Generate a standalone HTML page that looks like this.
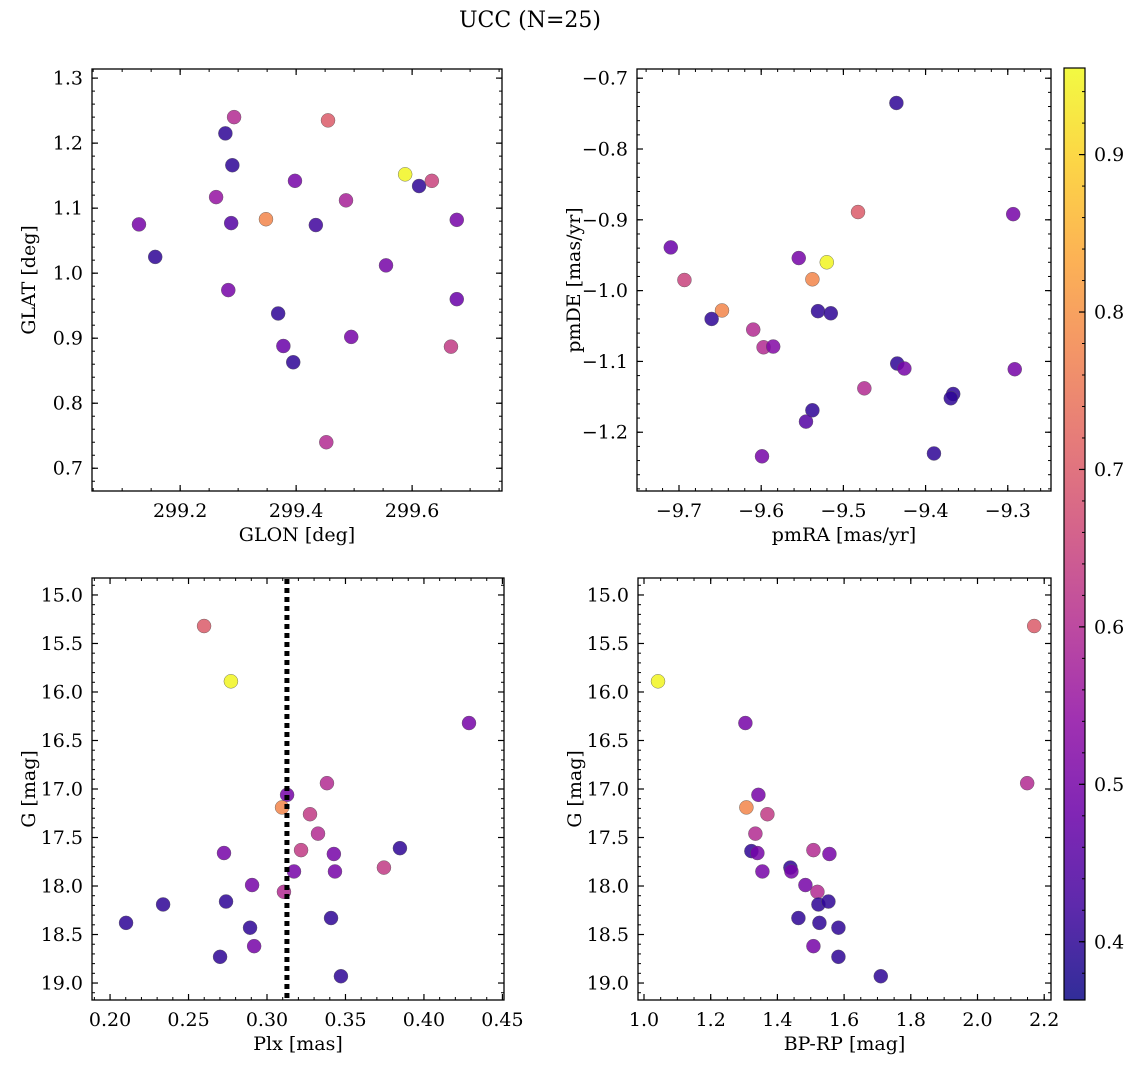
<!DOCTYPE html>
<html><head><meta charset="utf-8"><style>
html,body{margin:0;padding:0;background:#fff}
svg{display:block;font-family:"DejaVu Serif","Liberation Serif",serif}
</style></head><body>
<svg id="fig" width="1136" height="1068" viewBox="0 0 1136 1068" xmlns="http://www.w3.org/2000/svg">
<defs><linearGradient id="plasma" x1="0" y1="1" x2="0" y2="0"></linearGradient></defs>
<text x="530" y="27" font-size="22" text-anchor="middle">UCC (N=25)</text>
</svg>
<script>
// ---- data ----
const tlGlon=[299.129,299.157,299.262,299.278,299.293,299.290,299.288,299.283,299.348,299.398,299.369,299.378,299.395,299.434,299.455,299.452,299.486,299.495,299.555,299.588,299.612,299.634,299.677,299.677,299.667];
const tlGlat=[1.075,1.025,1.117,1.215,1.240,1.166,1.077,0.974,1.083,1.142,0.938,0.888,0.863,1.074,1.235,0.740,1.112,0.902,1.012,1.152,1.134,1.142,1.082,0.960,0.887];
const tlC=[0.5,0.4,0.55,0.4,0.6,0.4,0.45,0.5,0.78,0.5,0.4,0.48,0.4,0.42,0.7,0.6,0.58,0.5,0.5,0.95,0.4,0.65,0.5,0.48,0.63];
const trRA=[-9.4355,-9.4822,-9.2934,-9.710,-9.6934,-9.6477,-9.6603,-9.6097,-9.5971,-9.5854,-9.5543,-9.5377,-9.5202,-9.5309,-9.5153,-9.4345,-9.4258,-9.4745,-9.2915,-9.3664,-9.3693,-9.5377,-9.5455,-9.599,-9.3898];
const trDE=[-0.735,-0.889,-0.892,-0.939,-0.985,-1.028,-1.040,-1.055,-1.080,-1.079,-0.954,-0.984,-0.960,-1.029,-1.032,-1.103,-1.110,-1.138,-1.111,-1.146,-1.152,-1.169,-1.185,-1.234,-1.230];
const trC=[0.4,0.7,0.5,0.48,0.65,0.78,0.4,0.6,0.6,0.52,0.5,0.78,0.95,0.4,0.4,0.4,0.5,0.6,0.5,0.4,0.4,0.4,0.45,0.5,0.4];
const blPlx=[0.2599,0.2770,0.4287,0.3382,0.3128,0.3096,0.3274,0.3325,0.3217,0.2726,0.3426,0.3847,0.3745,0.3172,0.3433,0.2905,0.3108,0.2739,0.2338,0.2102,0.3408,0.2892,0.2918,0.2701,0.3471];
const blG=[15.32,15.89,16.32,16.94,17.06,17.19,17.26,17.46,17.63,17.66,17.67,17.61,17.81,17.85,17.85,17.99,18.06,18.16,18.19,18.38,18.33,18.43,18.62,18.73,18.93];
const blC=[0.7,0.95,0.5,0.6,0.5,0.78,0.63,0.6,0.63,0.5,0.5,0.4,0.63,0.5,0.5,0.5,0.6,0.4,0.4,0.4,0.4,0.4,0.5,0.4,0.4];
const plxLine=0.3127;
const brBPRP=[2.170,1.042,1.304,2.149,1.343,1.307,1.370,1.334,1.322,1.340,1.508,1.556,1.355,1.439,1.442,1.484,1.520,1.523,1.553,1.463,1.526,1.583,1.508,1.583,1.710];
const brG=[15.32,15.89,16.32,16.94,17.06,17.19,17.26,17.46,17.64,17.66,17.63,17.67,17.85,17.81,17.85,17.99,18.06,18.19,18.16,18.33,18.38,18.43,18.62,18.73,18.93];
const brC=[0.7,0.95,0.5,0.6,0.5,0.78,0.63,0.6,0.4,0.5,0.6,0.5,0.5,0.4,0.5,0.5,0.6,0.4,0.4,0.4,0.4,0.4,0.5,0.4,0.4];
const cbTicks=[0.4,0.5,0.6,0.7,0.8,0.9];
const vmin=0.363, vmax=0.955;

const NS="http://www.w3.org/2000/svg";
const svg=document.getElementById('fig');
const TF=19, LF=19;
function mk(tag,attrs,parent){const e=document.createElementNS(NS,tag);for(const k in attrs)e.setAttribute(k,attrs[k]);(parent||svg).appendChild(e);return e;}
const stops=[[13,8,135],[65,4,157],[106,0,168],[143,13,164],[177,42,144],[204,71,120],[225,100,98],[242,132,75],[252,166,54],[252,206,37],[240,249,33]];
function plasma(t){t=Math.max(0,Math.min(1,t));const f=t*10,i=Math.min(9,Math.floor(f)),r=f-i;const a=stops[i],b=stops[i+1];return 'rgb('+a.map((v,k)=>Math.round(v+(b[k]-v)*r)).join(',')+')';}
function cmap(v){return plasma((v-vmin)/(vmax-vmin));}
const fmt=(v,d)=>{let s=v.toFixed(d);if(s.startsWith('-'))s='\u2212'+s.slice(1);return s;};

function panel(name,box,xr,yr,xMaj,xMin,xd,yMaj,yMin,yd,xlab,ylab,xs,ys,cs,yinv){
  const [L,T,R,B]=box;
  const X=v=>L+(v-xr[0])/(xr[1]-xr[0])*(R-L);
  const Y=yinv?(v=>T+(v-yr[0])/(yr[1]-yr[0])*(B-T)):(v=>B-(v-yr[0])/(yr[1]-yr[0])*(B-T));
  const g=mk('g',{});
  
  
  const eps=1e-6;
  function ticks(step,lo,hi){const a=[];const n0=Math.ceil(lo/step-eps),n1=Math.floor(hi/step+eps);for(let n=n0;n<=n1;n++)a.push(n*step);return a;}
  const xlo=Math.min(...xr),xhi=Math.max(...xr),ylo=Math.min(...yr),yhi=Math.max(...yr);
  ticks(xMin,xlo,xhi).forEach(v=>{const x=X(v);mk('line',{x1:x,x2:x,y1:B,y2:B-3,stroke:'#000','stroke-width':1},g);mk('line',{x1:x,x2:x,y1:T,y2:T+3,stroke:'#000','stroke-width':1},g);});
  ticks(yMin,ylo,yhi).forEach(v=>{const y=Y(v);mk('line',{x1:L,x2:L+3,y1:y,y2:y,stroke:'#000','stroke-width':1},g);mk('line',{x1:R,x2:R-3,y1:y,y2:y,stroke:'#000','stroke-width':1},g);});
  ticks(xMaj,xlo,xhi).forEach(v=>{const x=X(v);mk('line',{x1:x,x2:x,y1:B,y2:B-6,stroke:'#000','stroke-width':1.2},g);mk('line',{x1:x,x2:x,y1:T,y2:T+6,stroke:'#000','stroke-width':1.2},g);
    const t=mk('text',{x:x,y:B+26,'font-size':TF,'text-anchor':'middle'},g);t.textContent=fmt(v,xd);
    });
  ticks(yMaj,ylo,yhi).forEach(v=>{const y=Y(v);mk('line',{x1:L,x2:L+6,y1:y,y2:y,stroke:'#000','stroke-width':1.2},g);mk('line',{x1:R,x2:R-6,y1:y,y2:y,stroke:'#000','stroke-width':1.2},g);
    const t=mk('text',{x:L-9,y:y+6.5,'font-size':TF,'text-anchor':'end'},g);t.textContent=fmt(v,yd);
    });
  xs.forEach((v,i)=>{const c=mk('circle',{cx:X(v),cy:Y(ys[i]),r:7,fill:cmap(cs[i]),'fill-opacity':0.85,stroke:'#555','stroke-width':0.4},g);
    });
  mk('rect',{x:L,y:T,width:R-L,height:B-T,fill:'none',stroke:'#000','stroke-width':1.3},g);
  const xl=mk('text',{x:(L+R)/2,y:B+50,'font-size':LF,'text-anchor':'middle'},g);xl.textContent=xlab;
  
  const yl=mk('text',{x:0,y:0,'font-size':LF,'text-anchor':'middle',transform:'translate('+(L-57)+','+((T+B)/2)+') rotate(-90)'},g);yl.textContent=ylab;
  
  return {X,Y,g};
}
panel('glon-glat',[92,69,502,491],[299.048,299.755],[0.665,1.314],0.2,0.05,1,0.1,0.02,1,'GLON [deg]','GLAT [deg]',tlGlon,tlGlat,tlC,false);
panel('pm',[637,69,1051,491],[-9.7511,-9.2474],[-1.283,-0.687],0.1,0.02,1,0.1,0.02,1,'pmRA [mas/yr]','pmDE [mas/yr]',trRA,trDE,trC,false);
const bl=panel('plx-g',[92,578,504,1000],[0.1885,0.4510],[14.825,19.175],0.05,0.01,2,0.5,0.1,1,'Plx [mas]','G [mag]',blPlx,blG,blC,true);
const ln=mk('line',{x1:bl.X(plxLine),x2:bl.X(plxLine),y1:579,y2:999,stroke:'#000','stroke-width':5,'stroke-dasharray':'5,4'},bl.g);

panel('bprp-g',[638,578,1051,1000],[0.982,2.2204],[14.825,19.175],0.2,0.05,1,0.5,0.1,1,'BP-RP [mag]','G [mag]',brBPRP,brG,brC,true);

// colorbar
const grad=document.getElementById('plasma');
for(let i=0;i<=10;i++){mk('stop',{offset:(i*10)+'%','stop-color':plasma(i/10),'stop-opacity':0.85},grad);}
const cb=mk('g',{});

const CT=68,CB=1000,CL=1064,CR=1085;
mk('rect',{x:CL,y:CT,width:CR-CL,height:CB-CT,fill:'url(#plasma)'},cb);
const CY=v=>CB-(v-vmin)/(vmax-vmin)*(CB-CT);
for(let n=19;n*0.02<vmax;n++){const y=CY(n*0.02);mk('line',{x1:CR,x2:CR-3,y1:y,y2:y,stroke:'#000','stroke-width':1},cb);}
cbTicks.forEach(v=>{const y=CY(v);mk('line',{x1:CR,x2:CR-6,y1:y,y2:y,stroke:'#000','stroke-width':1.2},cb);
  const t=mk('text',{x:CR+9,y:y+6.5,'font-size':TF},cb);t.textContent=v.toFixed(1);
  });
mk('rect',{x:CL,y:CT,width:CR-CL,height:CB-CT,fill:'none',stroke:'#000','stroke-width':1.2},cb);
</script>
</body></html>
